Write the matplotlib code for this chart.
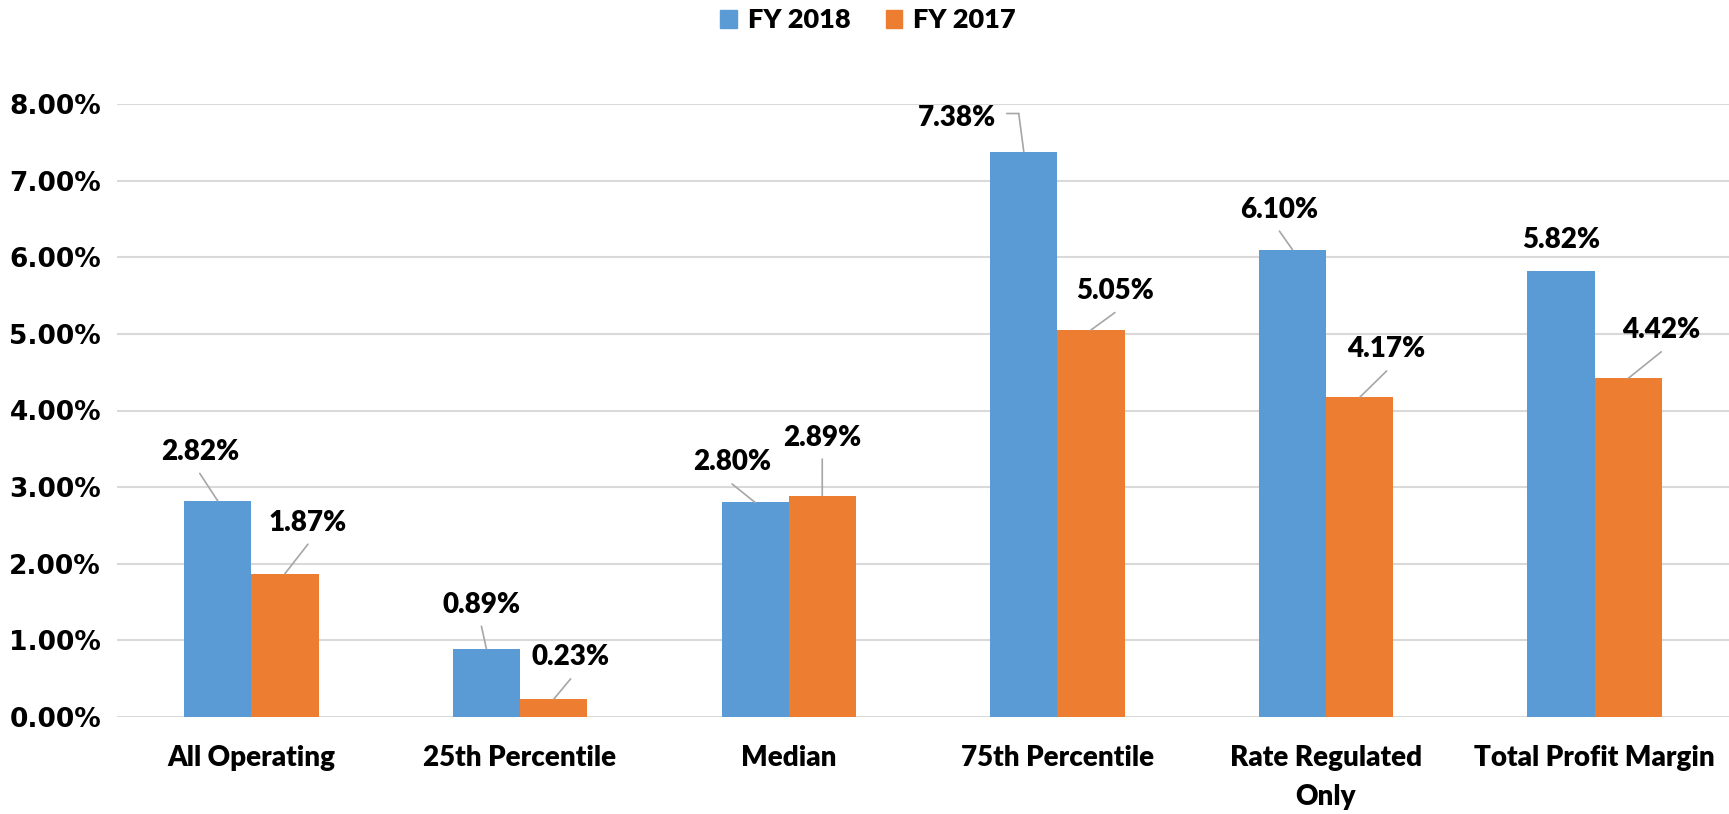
import matplotlib
matplotlib.use("Agg")
import matplotlib.pyplot as plt
import numpy as np
from matplotlib.patches import Patch
from matplotlib.ticker import FuncFormatter
from matplotlib.transforms import offset_copy

# ---- data ----
categories = ["All Operating", "25th Percentile", "Median", "75th Percentile",
              "Rate Regulated\nOnly", "Total Profit Margin"]
fy2018 = [2.82, 0.89, 2.80, 7.38, 6.10, 5.82]
fy2017 = [1.87, 0.23, 2.89, 5.05, 4.17, 4.42]
series_names = ["FY 2018", "FY 2017"]

# ---- label layout (pixel offsets of label centre from bar top) ----
off2018 = [(-18, 49), (-5, 44), (-23, 40), (-67, 34), (-13, 40), (0, 31)]
off2017 = [(23, 51), (17, 42), (0, 58), (24, 39), (27, 48), (33, 48)]
lead2018 = ["v", "v", "v", "h", "v", None]
lead2017 = ["v", "v", "v", "v", "v", "v"]

blue = "#5B9BD5"
orange = "#ED7D31"
grid_c = "#D9D9D9"
lead_c = "#A6A6A6"
txt_w = "heavy"

plt.rcParams["font.family"] = ["Lato", "DejaVu Sans"]

fig = plt.figure(figsize=(17.29, 8.14), dpi=100)
ax = fig.add_axes([117 / 1729, 97 / 814, 1 - 117 / 1729, 613 / 814])

x = np.arange(len(categories))
w = 0.25
ax.bar(x - w / 2, fy2018, w, color=blue, zorder=2)
ax.bar(x + w / 2, fy2017, w, color=orange, zorder=2)

ax.set_xlim(-0.5, len(categories) - 0.5)
ax.set_ylim(0, 8)
ax.set_yticks(np.arange(0, 9, 1))
ax.yaxis.set_major_formatter(FuncFormatter(lambda v, _: f"{v:.2f}%"))
ax.yaxis.grid(True, color=grid_c, lw=1.5, zorder=0)
ax.set_axisbelow(True)
for s in ax.spines.values():
    s.set_visible(False)

ax.set_xticks(x)
ax.set_xticklabels(categories, fontsize=20, fontweight=txt_w, linespacing=1.65)
ax.tick_params(axis="x", length=0, pad=20)
ax.tick_params(axis="y", length=0, pad=11.5)
for lab in ax.get_yticklabels():
    lab.set_family("DejaVu Sans")
    lab.set_fontweight("bold")
    lab.set_fontsize(19)


def pt(dx, dy):
    return offset_copy(ax.transData, fig=fig, x=dx, y=dy, units="dots")


def label_bars(xs, vals, offs, leads):
    for xi, v, (dx, dy), kind in zip(xs, vals, offs, leads):
        ax.annotate(f"{v:.2f}%", xy=(xi, v), xytext=(dx, dy),
                    textcoords="offset pixels", ha="center", va="center",
                    fontsize=20, fontweight=txt_w, zorder=4)
        lk = dict(arrowstyle="-", color=lead_c, lw=1.2, shrinkA=0, shrinkB=0)
        if kind == "v":
            ax.annotate("", xy=(xi, v), xycoords=ax.transData,
                        xytext=(xi, v), textcoords=pt(dx, dy - 21.5),
                        arrowprops=lk, zorder=3)
        elif kind == "h":
            hx0 = dx + 50
            ax.annotate("", xy=(xi, v), xycoords=pt(hx0 + 12, dy + 4),
                        xytext=(xi, v), textcoords=pt(hx0, dy + 4),
                        arrowprops=lk, zorder=3)
            ax.annotate("", xy=(xi, v), xycoords=ax.transData,
                        xytext=(xi, v), textcoords=pt(hx0 + 12, dy + 4),
                        arrowprops=lk, zorder=3)


label_bars(x - w / 2, fy2018, off2018, lead2018)
label_bars(x + w / 2, fy2017, off2017, lead2017)

handles = [Patch(color=blue), Patch(color=orange)]
fig.legend(handles, series_names, loc="center", bbox_to_anchor=(0.502, 0.975),
           ncol=2, frameon=False, prop={"weight": txt_w, "size": 19.5},
           handlelength=0.62, handleheight=0.62, handletextpad=0.4,
           columnspacing=1.3)

fig.savefig("out.png", dpi=100)
